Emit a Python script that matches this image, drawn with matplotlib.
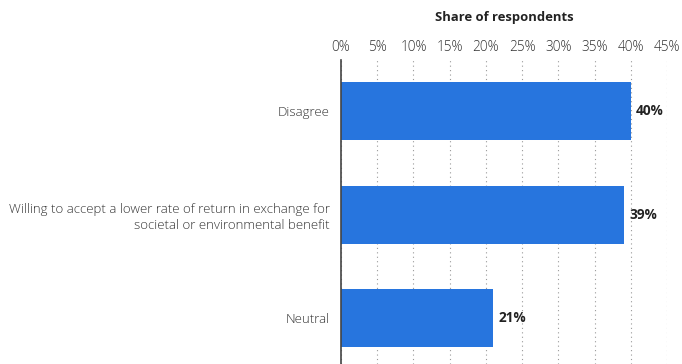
import matplotlib
matplotlib.use("Agg")
import matplotlib.pyplot as plt
from matplotlib.ticker import MultipleLocator, FuncFormatter

plt.rcParams['font.family'] = ['Open Sans', 'DejaVu Sans']

categories = ["Disagree",
              "Willing to accept a lower rate of return in exchange for\nsocietal or environmental benefit",
              "Neutral"]
values = [40, 39, 21]
value_labels = ["40%", "39%", "21%"]

fig = plt.figure(figsize=(6.82, 3.64), dpi=100)
ax = fig.add_axes([0.5, 0.0, 0.478, 0.835])

ypos = list(range(len(categories)))
ax.barh(ypos, values, height=0.56, color="#2775de", zorder=3)

for y, v, lab in zip(ypos, values, value_labels):
    ax.text(v + 0.75, y, lab, va="center", ha="left", fontsize=9.8,
            fontweight="bold", color="#222222", zorder=4)

ax.set_xlim(0, 45)
ax.set_ylim(2.44, -0.49)
ax.xaxis.set_major_locator(MultipleLocator(5))
ax.xaxis.set_major_formatter(FuncFormatter(lambda x, p: f"{x:.0f}%"))
ax.xaxis.tick_top()
ax.tick_params(axis="x", length=0, pad=4, labelsize=9.8, labelcolor="#333333")
ax.set_yticks(ypos)
ax.set_yticklabels(categories, fontsize=9.5, color="#333333", fontweight="light",
                   linespacing=1.3)
ax.tick_params(axis="y", length=0, pad=8)
for t in ax.get_yticklabels():
    t.set_multialignment("right")
for t in ax.get_xticklabels():
    t.set_fontweight("light")

ax.grid(axis="x", linestyle=(0, (1, 3)), color="#999999", linewidth=0.8, zorder=0)
for s in ["top", "right", "bottom"]:
    ax.spines[s].set_visible(False)
ax.spines["left"].set_color("#444444")
ax.spines["left"].set_linewidth(1.2)
ax.spines["left"].set_zorder(5)

fig.text(0.5 + 0.478 / 2, 0.952, "Share of respondents", ha="center", va="center",
         fontsize=9.4, fontweight="bold", color="#222222")

fig.savefig("out.png", dpi=100)
